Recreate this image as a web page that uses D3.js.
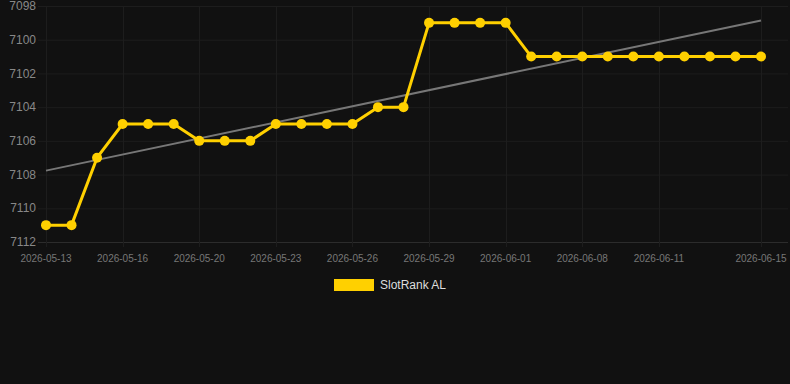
<!DOCTYPE html>
<html>
<head>
<meta charset="utf-8">
<script src="https://cdn.jsdelivr.net/npm/d3@7"></script>
<style>
  html, body { margin: 0; padding: 0; background: #111; }
  svg { display: block; font-family: "Liberation Sans", Arial, sans-serif; }
</style>
</head>
<body>
<div id="chart"></div>
<script>
// chart data
const dates = ['2026-05-13', '2026-05-14', '2026-05-15', '2026-05-16', '2026-05-17', '2026-05-18',
  '2026-05-20', '2026-05-21', '2026-05-22', '2026-05-23', '2026-05-24', '2026-05-25',
  '2026-05-26', '2026-05-27', '2026-05-28', '2026-05-29', '2026-05-30', '2026-05-31',
  '2026-06-01', '2026-06-02', '2026-06-05', '2026-06-08', '2026-06-09', '2026-06-10',
  '2026-06-11', '2026-06-12', '2026-06-13', '2026-06-14', '2026-06-15'];
const ranks = [7111, 7111, 7107, 7105, 7105, 7105, 7106, 7106, 7106, 7105, 7105, 7105, 7105,
  7104, 7104, 7099, 7099, 7099, 7099, 7101, 7101, 7101, 7101, 7101, 7101, 7101, 7101, 7101, 7101];
const yTicks = [7098, 7100, 7102, 7104, 7106, 7108, 7110, 7112];
const xTickDates = ['2026-05-13', '2026-05-16', '2026-05-20', '2026-05-23', '2026-05-26',
  '2026-05-29', '2026-06-01', '2026-06-08', '2026-06-11', '2026-06-15'];
const seriesName = 'SlotRank AL';

const totalWidth = 790, totalHeight = 384;
const plot = {left: 38, right: 788, top: 6, bottom: 242};

const svg = d3.select('#chart').append('svg')
  .attr('width', totalWidth)
  .attr('height', totalHeight);

svg.append('rect').attr('width', totalWidth).attr('height', totalHeight).style('fill', '#111');

const x = d3.scalePoint().domain(dates).range([46, 761]);
const y = d3.scaleLinear().domain([7098, 7112]).range([plot.top, plot.bottom]);

// grid
const grid = svg.append('g').attr('class', 'grid');
grid.selectAll('line.h')
  .data(yTicks)
  .enter().append('line')
  .attr('class', 'h')
  .attr('x1', plot.left).attr('x2', plot.right)
  .attr('y1', d => y(d) + 0.5).attr('y2', d => y(d) + 0.5)
  .style('stroke', (d, i) => i === yTicks.length - 1 ? '#2c2c2c' : '#1d1d1d')
  .style('stroke-width', 1);
grid.selectAll('line.v')
  .data(xTickDates)
  .enter().append('line')
  .attr('class', 'v')
  .attr('x1', d => Math.round(x(d)) + 0.5).attr('x2', d => Math.round(x(d)) + 0.5)
  .attr('y1', plot.top).attr('y2', plot.bottom + 5)
  .style('stroke', '#1d1d1d')
  .style('stroke-width', 1);

// y axis labels
svg.append('g').selectAll('text')
  .data(yTicks)
  .enter().append('text')
  .attr('x', 36)
  .attr('y', d => y(d))
  .attr('dy', '0.35em')
  .attr('text-anchor', 'end')
  .style('font-size', '12px')
  .style('fill', '#888')
  .text(d => d);

// x axis labels
svg.append('g').selectAll('text')
  .data(xTickDates)
  .enter().append('text')
  .attr('x', d => x(d))
  .attr('y', 262)
  .attr('text-anchor', 'middle')
  .style('font-size', '10px')
  .style('fill', '#777')
  .text(d => d);

// linear trend (least squares over index)
const n = ranks.length;
const xs = d3.range(n);
const mx = d3.mean(xs), my = d3.mean(ranks);
const slope = d3.sum(xs, i => (i - mx) * (ranks[i] - my)) / d3.sum(xs, i => (i - mx) * (i - mx));
const intercept = my - slope * mx;
svg.append('line')
  .attr('x1', x(dates[0])).attr('y1', y(intercept))
  .attr('x2', x(dates[n - 1])).attr('y2', y(intercept + slope * (n - 1)))
  .style('stroke', '#777')
  .style('stroke-width', 2);

// series
const line = d3.line()
  .x((d, i) => x(dates[i]))
  .y(d => y(d));
svg.append('path')
  .datum(ranks)
  .attr('d', line)
  .style('fill', 'none')
  .style('stroke', '#FFD000')
  .style('stroke-width', 3)
  .style('stroke-linejoin', 'round');
svg.append('g').selectAll('circle')
  .data(ranks)
  .enter().append('circle')
  .attr('cx', (d, i) => x(dates[i]))
  .attr('cy', d => y(d))
  .attr('r', 5)
  .style('fill', '#FFD000');

// legend
const legend = svg.append('g').attr('transform', 'translate(334,279)');
legend.append('rect').attr('width', 40).attr('height', 12).style('fill', '#FFD000');
legend.append('text')
  .attr('x', 46).attr('y', 6).attr('dy', '0.35em')
  .style('font-size', '12px')
  .style('fill', '#ddd')
  .text(seriesName);
</script>
</body>
</html>
